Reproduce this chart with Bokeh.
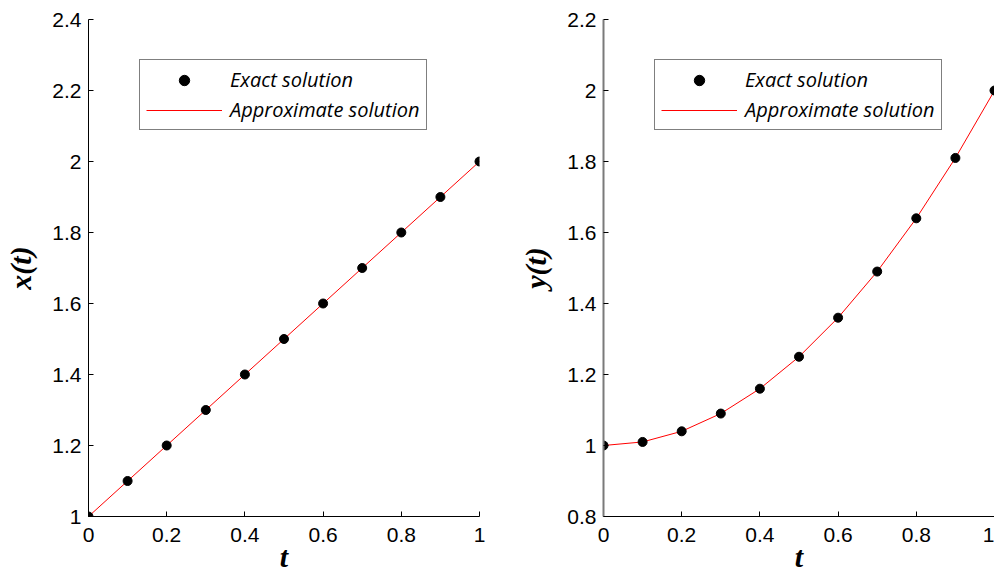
from bokeh.plotting import figure
from bokeh.layouts import row
from bokeh.models import Range1d, FixedTicker, Legend, LegendItem
from bokeh.embed import file_html
from bokeh.resources import INLINE

# ---- data ----
t = [0.0, 0.1, 0.2, 0.3, 0.4, 0.5, 0.6, 0.7, 0.8, 0.9, 1.0]
x_exact = [1.0, 1.1, 1.2, 1.3, 1.4, 1.5, 1.6, 1.7, 1.8, 1.9, 2.0]
x_approx = [1.0, 1.1, 1.2, 1.3, 1.4, 1.5, 1.6, 1.7, 1.8, 1.9, 2.0]
y_exact = [1.0, 1.01, 1.04, 1.09, 1.16, 1.25, 1.36, 1.49, 1.64, 1.81, 2.0]
y_approx = [1.0, 1.01, 1.04, 1.09, 1.16, 1.25, 1.36, 1.49, 1.64, 1.81, 2.0]

x_ticks = [0, 0.2, 0.4, 0.6, 0.8, 1]
x_tick_labels = ["0", "0.2", "0.4", "0.6", "0.8", "1"]
left_y_ticks = [1, 1.2, 1.4, 1.6, 1.8, 2, 2.2, 2.4]
left_y_labels = ["1", "1.2", "1.4", "1.6", "1.8", "2", "2.2", "2.4"]
right_y_ticks = [0.8, 1, 1.2, 1.4, 1.6, 1.8, 2, 2.2]
right_y_labels = ["0.8", "1", "1.2", "1.4", "1.6", "1.8", "2", "2.2"]

TICK_FONT = "Liberation Sans"
LABEL_FONT = "Liberation Serif"
LEG_FONT = "Open Sans"


def make_panel(yvals_exact, yvals_approx, yticks, ylabels, yrange, ylabel,
               width, border_left, border_right, yaxis_color, yaxis_width):
    p = figure(width=width, height=580,
               min_border_left=border_left, min_border_right=border_right,
               min_border_top=19, min_border_bottom=64,
               x_range=Range1d(0, 1), y_range=Range1d(*yrange),
               output_backend="svg", toolbar_location=None)
    p.outline_line_color = None
    p.grid.visible = False
    p.background_fill_color = "white"
    p.border_fill_color = "white"

    line = p.line(t, yvals_approx, line_color="red", line_width=1)
    dots = p.scatter(t, yvals_exact, size=9, fill_color="black", line_color="black")

    for ax, ticks, labels in ((p.xaxis[0], x_ticks, x_tick_labels),
                              (p.yaxis[0], yticks, ylabels)):
        ax.ticker = FixedTicker(ticks=ticks)
        ax.major_label_overrides = {tk: lb for tk, lb in zip(ticks, labels)}
        ax.major_tick_in = 5
        ax.major_tick_out = 0
        ax.minor_tick_line_color = None
        ax.major_tick_line_color = "black"
        ax.major_label_text_font = TICK_FONT
        ax.major_label_text_font_size = "21px"
        ax.major_label_text_color = "black"
        ax.axis_label_text_font = LABEL_FONT
        ax.axis_label_text_font_style = "bold italic"
        ax.axis_label_text_font_size = "30px"
        ax.axis_label_text_color = "black"

    p.xaxis[0].axis_label = "t"
    p.xaxis[0].axis_line_color = "black"
    p.xaxis[0].major_label_standoff = 11
    p.xaxis[0].axis_label_standoff = -5
    p.yaxis[0].axis_label = ylabel
    p.yaxis[0].axis_line_color = yaxis_color
    p.yaxis[0].axis_line_width = yaxis_width
    p.yaxis[0].major_label_standoff = 7
    p.yaxis[0].axis_label_standoff = 12

    legend = Legend(items=[LegendItem(label="Exact solution", renderers=[dots]),
                           LegendItem(label="Approximate solution", renderers=[line])],
                    location=(51, 386), margin=0, padding=6, spacing=3,
                    glyph_width=76, glyph_height=26, label_standoff=8,
                    label_text_font=LEG_FONT, label_text_font_style="italic",
                    label_text_font_size="20px", label_text_color="black",
                    border_line_color="black", border_line_width=1,
                    background_fill_color="white", background_fill_alpha=1)
    p.add_layout(legend, "center")
    return p


p1 = make_panel(x_exact, x_approx, left_y_ticks, left_y_labels, (1, 2.4), "x(t)",
                515, 88, 36, "black", 1)
p2 = make_panel(y_exact, y_approx, right_y_ticks, right_y_labels, (0.8, 2.2), "y(t)",
                479, 88, 0, "#7a7a7a", 2)

layout = row(p1, p2)
open("out.html", "w").write(file_html(layout, INLINE))
